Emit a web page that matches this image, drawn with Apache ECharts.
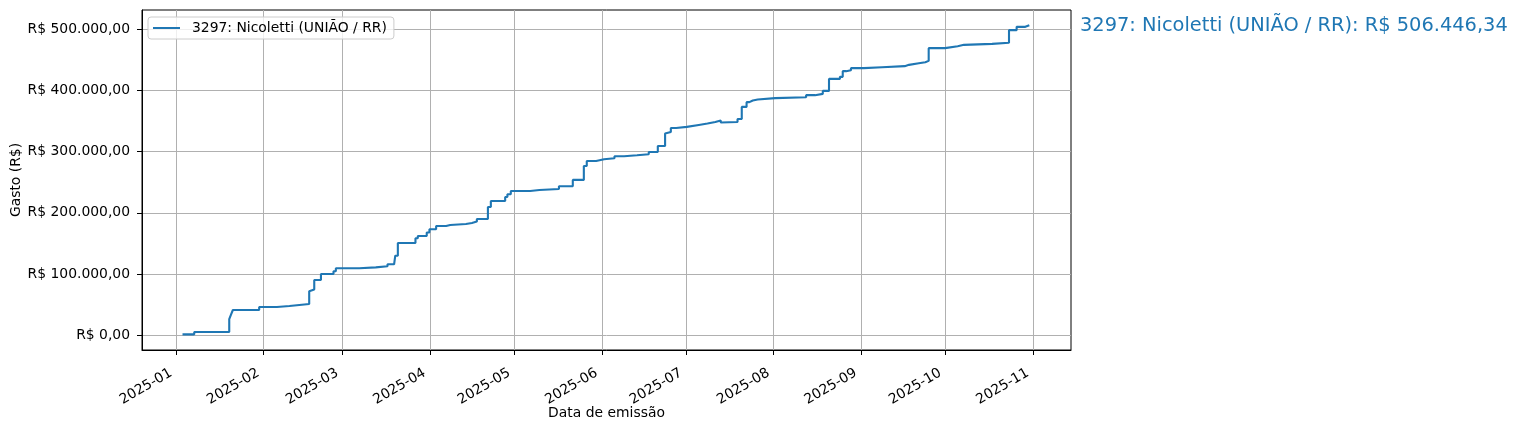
<!DOCTYPE html>
<html>
<head>
<meta charset="utf-8">
<script src="https://cdn.jsdelivr.net/npm/echarts@6/dist/echarts.min.js"></script>
<style>
  html, body { margin: 0; padding: 0; background: #fff; }
  #chart { width: 1519px; height: 430px; }
</style>
</head>
<body>
<div id="chart"></div>
<script>
// datas de emissão (cada degrau) e gasto acumulado em R$
const dates = [
    '2025-01-03 05:00', '2025-01-07 09:00', '2025-01-19 19:00', '2025-01-20 10:00', '2025-01-21 02:00',
    '2025-01-30 10:00', '2025-02-05 17:00', '2025-02-10 04:00', '2025-02-17 04:00', '2025-02-17 19:00',
    '2025-02-18 23:00', '2025-02-21 08:00', '2025-02-25 19:00', '2025-02-26 15:00', '2025-03-06 22:00',
    '2025-03-12 19:00', '2025-03-16 23:00', '2025-03-19 07:00', '2025-03-19 17:00', '2025-03-20 15:00',
    '2025-03-26 21:00', '2025-03-27 17:00', '2025-03-30 21:00', '2025-03-31 20:00', '2025-04-03 05:00',
    '2025-04-06 18:00', '2025-04-08 05:00', '2025-04-13 19:00', '2025-04-15 22:00', '2025-04-17 16:00',
    '2025-04-21 14:00', '2025-04-22 15:00', '2025-04-27 17:00', '2025-04-28 12:00', '2025-04-29 17:00',
    '2025-05-06 14:00', '2025-05-09 21:00', '2025-05-16 19:00', '2025-05-21 17:00', '2025-05-25 15:00',
    '2025-05-26 16:00', '2025-05-30 00:00', '2025-06-01 19:00', '2025-06-05 12:00', '2025-06-08 22:00',
    '2025-06-13 12:00', '2025-06-17 16:00', '2025-06-20 21:00', '2025-06-23 11:00', '2025-06-23 19:00',
    '2025-06-25 12:00', '2025-06-27 09:00', '2025-07-01 04:00', '2025-07-05 10:00', '2025-07-08 12:00',
    '2025-07-11 07:00', '2025-07-13 05:00', '2025-07-13 22:00', '2025-07-19 04:00', '2025-07-20 16:00',
    '2025-07-22 09:00', '2025-07-23 09:00', '2025-07-24 14:00', '2025-07-26 08:00', '2025-08-01 12:00',
    '2025-08-12 12:00', '2025-08-15 16:00', '2025-08-18 10:00', '2025-08-20 15:00', '2025-08-24 12:00',
    '2025-08-25 12:00', '2025-08-26 17:00', '2025-08-28 10:00', '2025-09-02 00:00', '2025-09-08 10:00',
    '2025-09-16 12:00', '2025-09-18 00:00', '2025-09-21 12:00', '2025-09-23 19:00', '2025-09-25 00:00',
    '2025-09-30 19:00', '2025-10-05 07:00', '2025-10-07 12:00', '2025-10-17 12:00', '2025-10-23 12:00',
    '2025-10-26 05:00', '2025-10-29 07:00', '2025-10-30 17:00'
];
const gastos = [
    1600, 5400, 26600, 33800, 41300,
    46200, 47900, 51100, 71900, 74700,
    90400, 100200, 104600, 109500, 111000,
    112700, 116000, 118000, 130000, 150800,
    158500, 162300, 168000, 173200, 178400,
    180200, 181900, 183500, 185800, 190000,
    209600, 219400, 226000, 230400, 235800,
    237400, 239000, 243500, 253800, 276600,
    284800, 287600, 289200, 292500, 294100,
    295800, 299500, 309300, 329600, 332200,
    338700, 340400, 343600, 345900, 348500,
    350800, 347500, 348500, 353200, 373000,
    380800, 383500, 385100, 387300, 388900,
    392200, 394300, 399200, 418800, 422100,
    431400, 433000, 436300, 437900, 439600,
    441700, 444400, 446100, 448200, 469000,
    472200, 474400, 476000, 477700, 498400,
    503800, 506446.34, 506446.34
];

const seriesName = '3297: Nicoletti (UNIÃO / RR)';
const totalLabel = seriesName + ': R$ 506.446,34';

// ticks
const yTicks = [0, 100000, 200000, 300000, 400000, 500000];
const xTickLabels = ['2025-01', '2025-02', '2025-03', '2025-04', '2025-05', '2025-06',
    '2025-07', '2025-08', '2025-09', '2025-10', '2025-11'];

const FONT = 'DejaVu Sans';
const BLUE = '#1f77b4';

// formato brasileiro: R$ 100.000,00
const formatBRL = (v) => {
    const parts = Math.abs(v).toFixed(2).split('.');
    const inteiro = parts[0].replace(/\B(?=(\d{3})+(?!\d))/g, '.');
    return 'R$ ' + (v < 0 ? '-' : '') + inteiro + ',' + parts[1];
};
const toTs = (s) => {
    const [d, t] = s.split(' ');
    const [y, m, dd] = d.split('-').map(Number);
    const [hh, mm] = (t || '00:00').split(':').map(Number);
    return Date.UTC(y, m - 1, dd, hh, mm);
};
const pad2 = (n) => (n < 10 ? '0' : '') + n;

const xTicks = xTickLabels.map(l => toTs(l + '-01'));

// degraus: o valor fica constante até a próxima data, depois sobe
const lineData = [];
dates.forEach((d, i) => {
    lineData.push([toTs(d), gastos[i]]);
    if (i < dates.length - 1) lineData.push([toTs(dates[i + 1]), gastos[i]]);
});

const chart = echarts.init(document.getElementById('chart'));
chart.setOption({
    animation: false,
    textStyle: { fontFamily: FONT },
    grid: {
        left: 142, right: 448, top: 10, bottom: 80,
        containLabel: false,
        outerBoundsMode: 'none',
        show: true, borderColor: '#000', borderWidth: 1, backgroundColor: 'transparent'
    },
    legend: {
        left: 148, top: 17,
        padding: [4, 7, 4, 5],
        itemWidth: 27, itemHeight: 2,
        icon: 'rect',
        backgroundColor: 'rgba(255,255,255,0.8)',
        borderColor: '#cccccc', borderWidth: 1, borderRadius: 3,
        textStyle: { fontFamily: FONT, fontSize: 13.9, color: '#000', padding: [0, 0, 0, 7] },
        data: [seriesName]
    },
    // eixo de tempo como valor (timestamps) para fixar os ticks no início de cada mês
    xAxis: {
        type: 'value',
        min: toTs('2024-12-19 20:00'),
        max: toTs('2025-11-14 12:00'),
        name: 'Data de emissão',
        nameLocation: 'middle',
        nameGap: 56,
        nameMoveOverlap: false,
        nameTextStyle: { fontFamily: FONT, fontSize: 13.9, color: '#000' },
        axisLine: { show: true, onZero: false, lineStyle: { color: '#000', width: 1 } },
        axisTick: { show: true, length: 5, lineStyle: { color: '#000', width: 1 }, customValues: xTicks },
        axisLabel: {
            customValues: xTicks,
            rotate: 30,
            margin: 19,
            padding: [0, 6, 0, 0],
            fontFamily: FONT, fontSize: 13.9, color: '#000',
            formatter: (v) => {
                const d = new Date(v);
                return d.getUTCFullYear() + '-' + pad2(d.getUTCMonth() + 1);
            }
        },
        splitLine: { show: true, lineStyle: { color: '#b0b0b0', width: 1 } }
    },
    yAxis: {
        type: 'value',
        min: -24000,
        max: 531300,
        name: 'Gasto (R$)',
        nameLocation: 'middle',
        nameGap: 119,
        nameMoveOverlap: false,
        nameTextStyle: { fontFamily: FONT, fontSize: 13.9, color: '#000' },
        axisLine: { show: true, onZero: false, lineStyle: { color: '#000', width: 1 } },
        axisTick: { show: true, length: 5, lineStyle: { color: '#000', width: 1 }, customValues: yTicks },
        axisLabel: {
            customValues: yTicks,
            margin: 12,
            fontFamily: FONT, fontSize: 13.9, color: '#000',
            formatter: (v) => formatBRL(v)
        },
        splitLine: { show: true, lineStyle: { color: '#b0b0b0', width: 1 } }
    },
    graphic: [{
        type: 'text',
        left: 1080,
        top: 16,
        style: {
            text: totalLabel,
            fill: BLUE,
            fontFamily: FONT,
            fontSize: 19.4
        }
    }],
    series: [{
        name: seriesName,
        type: 'line',
        data: lineData,
        showSymbol: false,
        symbol: 'none',
        color: BLUE,
        lineStyle: { color: BLUE, width: 2.1 },
        z: 3
    }]
});
window.addEventListener('resize', () => chart.resize());
</script>
</body>
</html>
